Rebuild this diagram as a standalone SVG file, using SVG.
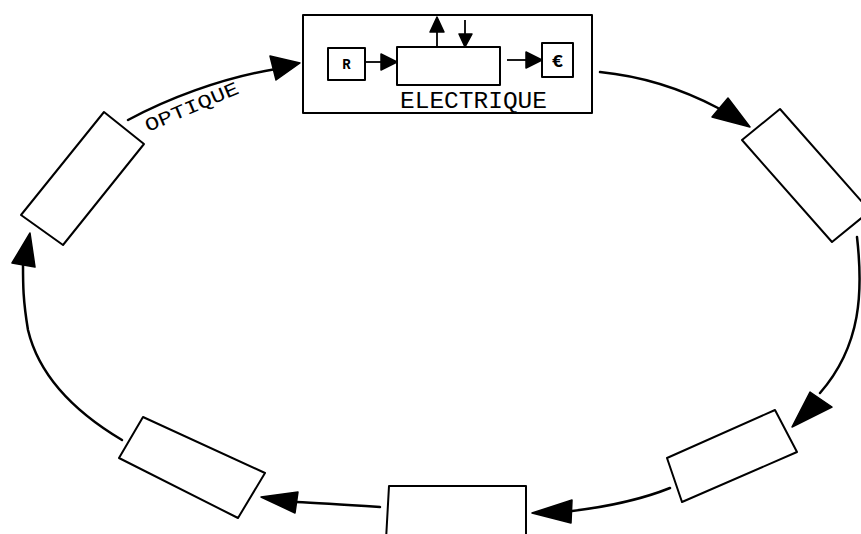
<svg xmlns="http://www.w3.org/2000/svg" width="861" height="534" viewBox="0 0 861 534">
<style>
.box{fill:#fff;stroke:#000;stroke-width:2;stroke-linejoin:round}
.ln{fill:none;stroke:#000;stroke-width:2.5;stroke-linecap:round}
.thin{fill:none;stroke:#000;stroke-width:1.8}
.hd{fill:#000;stroke:#000;stroke-width:1.5;stroke-linejoin:round}
.lbl{font-family:"Liberation Mono","DejaVu Sans Mono",monospace;fill:#000}
</style>
<rect width="861" height="534" fill="#fff"/>
<g id="electrique">
<rect class="box" x="303" y="15" width="289" height="98"/>
<rect class="box" x="328" y="48" width="37" height="32"/>
<text class="lbl" x="346.5" y="69" font-size="14" font-weight="bold" text-anchor="middle" font-family="Liberation Sans,sans-serif">R</text>
<rect class="box" x="397" y="47" width="103" height="38"/>
<rect class="box" x="542" y="43" width="31" height="34"/>
<text class="lbl" x="557.5" y="67" font-size="19" font-weight="bold" text-anchor="middle">€</text>
<line class="thin" x1="365" y1="62" x2="384" y2="62"/>
<polygon class="hd" points="397,62 381,54 381,70"/>
<line class="thin" x1="507" y1="60" x2="528" y2="60"/>
<polygon class="hd" points="542,60 526,52 526,68"/>
<line class="thin" x1="437" y1="47" x2="437" y2="30"/>
<polygon class="hd" points="437,17 430,32 444,32"/>
<line class="thin" x1="465" y1="20" x2="465" y2="36"/>
<polygon class="hd" points="465,47 459,34 472,34"/>
<text class="lbl" x="400" y="108" font-size="24" textLength="147" lengthAdjust="spacingAndGlyphs">ELECTRIQUE</text>
</g>
<g id="optique-label">
<text class="lbl" x="0" y="0" font-size="19" textLength="100" lengthAdjust="spacingAndGlyphs" transform="translate(148,132) rotate(-23)">OPTIQUE</text>
</g>
<g id="node-upper-left"><polygon class="box" points="104,112 144,144 63,245 21,215"/></g>
<g id="node-upper-right"><polygon class="box" points="780,109 870,211 832,242 742,140"/></g>
<g id="node-lower-right"><polygon class="box" points="667,458 775,410 797,452 682,502"/></g>
<g id="node-bottom"><polygon class="box" points="389,486 526,486 526,540 386,540"/></g>
<g id="node-lower-left"><polygon class="box" points="143,417 265,473 238,518 119,458"/></g>
<g id="connectors">
<path class="ln" d="M128,120 C165,100 220,78 276,69"/>
<polygon class="hd" points="300,63 270,56 276,80"/>
<path class="ln" d="M600,72 C640,76 680,88 718,108"/>
<polygon class="hd" points="750,127 712,117 728,98"/>
<path class="ln" d="M857,237 C863,290 862,345 820,393"/>
<polygon class="hd" points="792,427 810,392 832,407"/>
<path class="ln" d="M670,488 C640,500 605,507 572,511"/>
<polygon class="hd" points="532,513 572,500 571,523"/>
<path class="ln" d="M380,507 C350,505 320,503 296,502"/>
<polygon class="hd" points="261,497 298,492 295,513"/>
<path class="ln" d="M122,440 C80,415 40,380 28,330 C23,300 23,285 23,264"/>
<polygon class="hd" points="30,233 12,263 35,267"/>
</g>
</svg>
